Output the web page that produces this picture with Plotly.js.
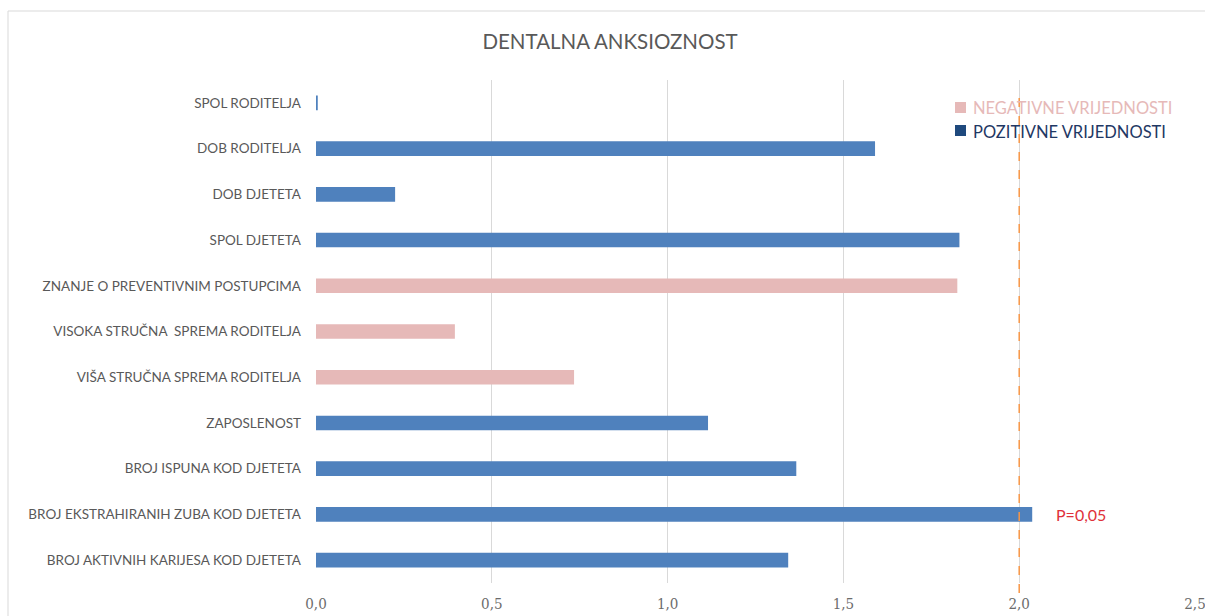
<!DOCTYPE html>
<html>
<head>
<meta charset="utf-8">
<script src="https://cdn.plot.ly/plotly-3.0.1.min.js"></script>
<style>html,body{margin:0;padding:0;background:#fff;}#chart{width:1205px;height:616px;}</style>
</head>
<body>
<div id="chart"></div>
<script>
// Data (top to bottom as in the chart)
const categories = [
  "SPOL RODITELJA",
  "DOB RODITELJA",
  "DOB DJETETA",
  "SPOL DJETETA",
  "ZNANJE O PREVENTIVNIM POSTUPCIMA",
  "VISOKA STRUČNA\u00a0 SPREMA RODITELJA",
  "VIŠA STRUČNA SPREMA RODITELJA",
  "ZAPOSLENOST",
  "BROJ ISPUNA KOD DJETETA",
  "BROJ EKSTRAHIRANIH ZUBA KOD DJETETA",
  "BROJ AKTIVNIH KARIJESA KOD DJETETA"
];
const values = [0.005, 1.59, 0.225, 1.83, 1.824, 0.395, 0.734, 1.115, 1.366, 2.037, 1.343];
const direction = ["pos", "pos", "pos", "pos", "neg", "neg", "neg", "pos", "pos", "pos", "pos"];
const xTicks = [0, 0.5, 1.0, 1.5, 2.0, 2.5];
const threshold = 2.0;
const thresholdLabel = "P=0,05";
const legendLabels = {neg: "NEGATIVNE VRIJEDNOSTI", pos: "POZITIVNE VRIJEDNOSTI"};

const barColors = {pos: "#4F81BD", neg: "#E6B9B8"};
const legendSquare = {pos: "#1F497D", neg: "#E6B9B8"};
const legendText = {pos: "#1F3864", neg: "#E6B9B8"};

const trace = {
  type: "bar",
  orientation: "h",
  y: categories,
  x: values,
  width: 0.32,
  marker: {color: direction.map(d => barColors[d])},
  hoverinfo: "x+y",
  showlegend: false
};

// plot area: left 316, right 1195, top 80, bottom 583
const L = 316, R = 1195, T = 80, B = 583;
const pw = R - L, ph = B - T;
const px = v => (v - L) / pw;
const py = v => (B - v) / ph;

const layout = {
  width: 1205, height: 616,
  margin: {l: L, r: 1205 - R, t: T, b: 616 - B, pad: 0},
  paper_bgcolor: "#ffffff",
  plot_bgcolor: "#ffffff",
  separators: ",.",
  font: {family: "Lato, 'Open Sans', sans-serif", color: "#595959"},
  title: {
    text: "DENTALNA ANKSIOZNOST",
    font: {family: "Lato, sans-serif", size: 20.5, color: "#595959"},
    x: 610 / 1205, xref: "container", xanchor: "center",
    y: 1 - 42 / 616, yref: "container", yanchor: "middle"
  },
  xaxis: {
    range: [0, 2.5],
    tickvals: xTicks,
    tickformat: ".1f",
    showgrid: true,
    gridcolor: "#D9D9D9",
    gridwidth: 1,
    zeroline: false,
    showline: false,
    ticks: "",
    tickfont: {family: "'DejaVu Serif Condensed', 'DejaVu Serif', serif", size: 15, color: "#6b6b6b"},
    ticklabelstandoff: 10,
    ticklabeloverflow: "allow",
    fixedrange: true
  },
  yaxis: {
    type: "category",
    autorange: "reversed",
    showgrid: false,
    zeroline: false,
    showline: false,
    ticks: "",
    ticklabelstandoff: 14,
    tickfont: {family: "Lato, sans-serif", size: 13.5, color: "#595959"},
    fixedrange: true
  },
  shapes: [
    // chart border (top and left)
    {type: "line", xref: "paper", yref: "paper", x0: px(8), x1: px(1210), y0: py(11), y1: py(11), line: {color: "#D9D9D9", width: 1}},
    {type: "line", xref: "paper", yref: "paper", x0: px(8), x1: px(8), y0: py(11), y1: py(620), line: {color: "#D9D9D9", width: 1}},
    // threshold dashed line
    {type: "line", xref: "x", yref: "paper", x0: threshold, x1: threshold, y0: py(593), y1: py(90), line: {color: "#F79646", width: 1.5, dash: "dash"}},
    // legend squares
    {type: "rect", xref: "paper", yref: "paper", x0: px(955), x1: px(966), y0: py(113), y1: py(102), fillcolor: legendSquare.neg, line: {width: 0}},
    {type: "rect", xref: "paper", yref: "paper", x0: px(955), x1: px(966), y0: py(136), y1: py(125), fillcolor: legendSquare.pos, line: {width: 0}}
  ],
  annotations: [
    {xref: "paper", yref: "paper", x: px(971), y: py(108), xanchor: "left", yanchor: "middle", showarrow: false,
     text: legendLabels.neg, font: {family: "Lato, sans-serif", size: 16.5, color: legendText.neg}},
    {xref: "paper", yref: "paper", x: px(971), y: py(132), xanchor: "left", yanchor: "middle", showarrow: false,
     text: legendLabels.pos, font: {family: "Lato, sans-serif", size: 16.5, color: legendText.pos}},
    {xref: "x", yref: "y", x: values[9], y: categories[9], xshift: 22, xanchor: "left", yanchor: "middle", showarrow: false,
     text: thresholdLabel, font: {family: "Lato, sans-serif", size: 16, color: "#E0313A"}}
  ],
  bargap: 0.68
};

Plotly.newPlot("chart", [trace], layout, {displayModeBar: false, staticPlot: true});
</script>
</body>
</html>
